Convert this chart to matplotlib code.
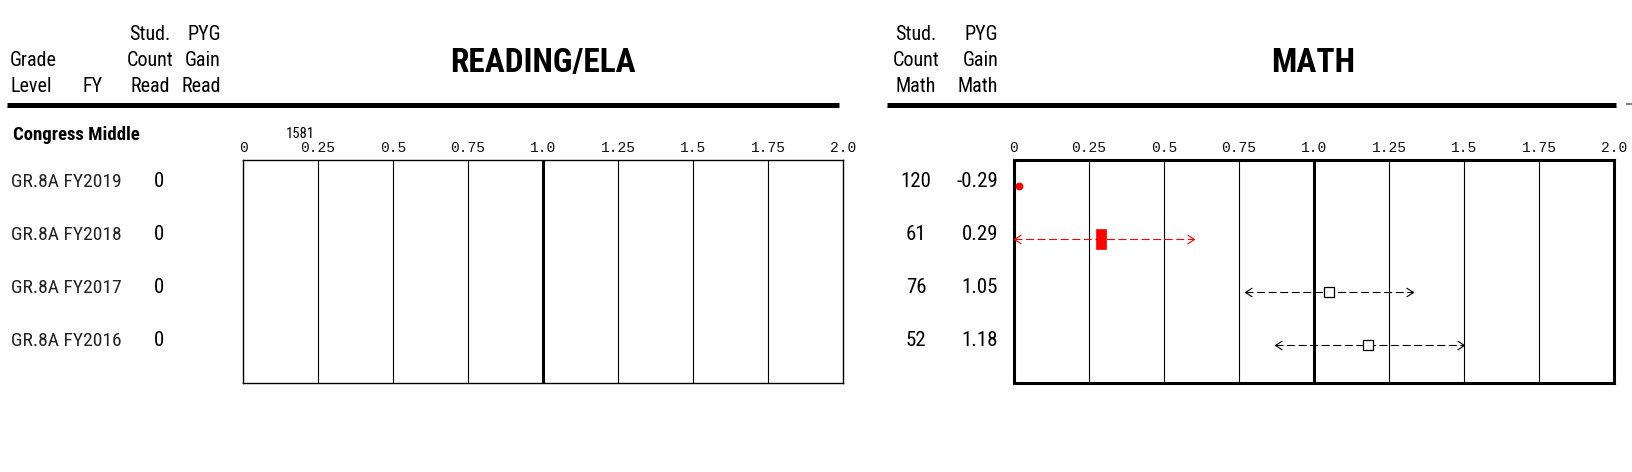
import matplotlib
matplotlib.use("Agg")
import matplotlib.pyplot as plt
import matplotlib.transforms as mtransforms
from matplotlib.lines import Line2D
from matplotlib.path import Path
import numpy as np

# ---------------- data ----------------
school_name = "Congress Middle"
school_code = "1581"
grade_levels = ["GR.8A", "GR.8A", "GR.8A", "GR.8A"]
fiscal_years = ["FY2019", "FY2018", "FY2017", "FY2016"]
read_counts = [0, 0, 0, 0]
math_counts = [120, 61, 76, 52]
math_gain = [-0.29, 0.29, 1.05, 1.18]
math_ci_low = [-0.50, -0.01, 0.77, 0.87]
math_ci_high = [-0.08, 0.60, 1.33, 1.50]
axis_ticks = [0, 0.25, 0.5, 0.75, 1.0, 1.25, 1.5, 1.75, 2.0]
axis_labels = ["0", "0.25", "0.5", "0.75", "1.0", "1.25", "1.5", "1.75", "2.0"]

# ---------------- style ----------------
SANS = ["Roboto Condensed", "Archivo Narrow", "PT Sans Narrow", "Liberation Sans", "DejaVu Sans"]
MONO = ["Liberation Mono", "DejaVu Sans Mono"]
RED = "#FF0000"
W, H = 1632, 472

fig = plt.figure(figsize=(W / 100, H / 100), dpi=100)
fig.patch.set_facecolor("white")


def fx(x):
    return x / W


def fy(y):
    return 1 - y / H


def ftext(x, y, s, size, ha="left", weight="normal", family=SANS, color="black"):
    fig.text(fx(x), fy(y), s, fontsize=size, ha=ha, va="baseline",
             fontweight=weight, family=family, color=color)


def hline(x0, x1, y, lw, color="black"):
    fig.add_artist(Line2D([fx(x0), fx(x1)], [fy(y), fy(y)], lw=lw, color=color,
                          transform=fig.transFigure, solid_capstyle="butt"))


# ---------------- headers ----------------
HS = 14.5
ftext(10, 66, "Grade", HS)
ftext(10, 91.5, "Level", HS)
ftext(82, 91.5, "FY", HS)
for txt, yb in zip(["Stud.", "Count", "Read"], [40.5, 66, 91.5]):
    ftext(150, yb, txt, HS, ha="center")
for txt, yb in zip(["PYG", "Gain", "Read"], [40.5, 66, 91.5]):
    ftext(221, yb, txt, HS, ha="right")
for txt, yb in zip(["Stud.", "Count", "Math"], [40.5, 66, 91.5]):
    ftext(916, yb, txt, HS, ha="center")
for txt, yb in zip(["PYG", "Gain", "Math"], [40.5, 66, 91.5]):
    ftext(998, yb, txt, HS, ha="right")

ftext(543, 72, "READING/ELA", 24, ha="center", weight="bold")
ftext(1313, 72, "MATH", 24, ha="center", weight="bold")

hline(7, 839, 104.5, 3.6)
hline(887, 1616, 104.5, 3.6)
hline(1626, 1632, 103.5, 1.2, color="#666666")

ftext(13, 140, school_name, 13.5, weight="bold")
ftext(286, 138, school_code, 10.5)

# ---------------- panels ----------------
rows = np.arange(len(fiscal_years))


def make_panel(left, border_lw):
    ax = fig.add_axes([fx(left), fy(383), 600 / W, 223 / H])
    ax.set_xlim(axis_ticks[0], axis_ticks[-1])
    ax.set_ylim(len(rows) - 1 + 0.72, -0.49)
    ax.set_yticks([])
    ax.xaxis.tick_top()
    ax.set_xticks(axis_ticks)
    ax.set_xticklabels(axis_labels, family=MONO, fontsize=10.5, color="#111111")
    ax.tick_params(axis="x", length=0, pad=3.5)
    for sp in ax.spines.values():
        sp.set_linewidth(border_lw)
    for t in axis_ticks[1:-1]:
        ax.axvline(t, color="black", lw=2.2 if t == 1.0 else 0.8, zorder=1)
    return ax


ax_r = make_panel(243, 1.0)
ax_m = make_panel(1014, 2.2)

# row texts
tr_r = mtransforms.offset_copy(
    mtransforms.blended_transform_factory(fig.transFigure, ax_r.transData),
    fig=fig, y=-1, units="dots")
tr_m = mtransforms.offset_copy(
    mtransforms.blended_transform_factory(fig.transFigure, ax_m.transData),
    fig=fig, y=-1, units="dots")

for i in rows:
    fig.text(fx(11), i, f"{grade_levels[i]} {fiscal_years[i]}", transform=tr_r,
             fontsize=14, family=SANS, va="baseline", ha="left", color="#222222")
    fig.text(fx(159), i, str(read_counts[i]), transform=tr_r,
             fontsize=15, family=SANS, va="baseline", ha="center")
    fig.text(fx(916), i, str(math_counts[i]), transform=tr_m,
             fontsize=15, family=SANS, va="baseline", ha="center")
    fig.text(fx(998), i, f"{math_gain[i]:.2f}", transform=tr_m,
             fontsize=15, family=SANS, va="baseline", ha="right")

# markers
left_chev = Path([(1.55, 1), (0, 0), (1.55, -1)], [Path.MOVETO, Path.LINETO, Path.LINETO])
right_chev = Path([(-1.55, 1), (0, 0), (-1.55, -1)], [Path.MOVETO, Path.LINETO, Path.LINETO])
tall_rect = Path([(-0.5, -1), (0.5, -1), (0.5, 1), (-0.5, 1), (-0.5, -1)],
                 [Path.MOVETO, Path.LINETO, Path.LINETO, Path.LINETO, Path.CLOSEPOLY])

xmin, xmax = axis_ticks[0], axis_ticks[-1]
for i in rows:
    g, lo, hi = math_gain[i], math_ci_low[i], math_ci_high[i]
    color = RED if hi < 1.0 else "black"
    if g < xmin:
        ax_m.plot([xmin + 0.0085 * (xmax - xmin)], [i], "o", color=RED, ms=4.6,
                  clip_on=False, zorder=5)
        continue
    lo_c, hi_c = max(lo, xmin), min(hi, xmax)
    ax_m.plot([lo_c, hi_c], [i, i], color=color, lw=0.8, ls=(0, (7.2, 3.2)),
              clip_on=False, zorder=3)
    ax_m.plot([lo_c], [i], marker=left_chev, ms=10, mfc="none", mec=color, mew=0.8,
              ls="none", clip_on=False, zorder=4)
    ax_m.plot([hi_c], [i], marker=right_chev, ms=10, mfc="none", mec=color, mew=0.8,
              ls="none", clip_on=False, zorder=4)
    if hi < 1.0:
        ax_m.plot([g], [i], marker=tall_rect, ms=15, mfc=RED, mec=RED, mew=0.5,
                  ls="none", zorder=5)
    else:
        ax_m.plot([g], [i], marker="s", ms=7, mfc="white", mec="black", mew=0.9,
                  ls="none", zorder=5)

fig.savefig("out.png", dpi=100, facecolor="white")
